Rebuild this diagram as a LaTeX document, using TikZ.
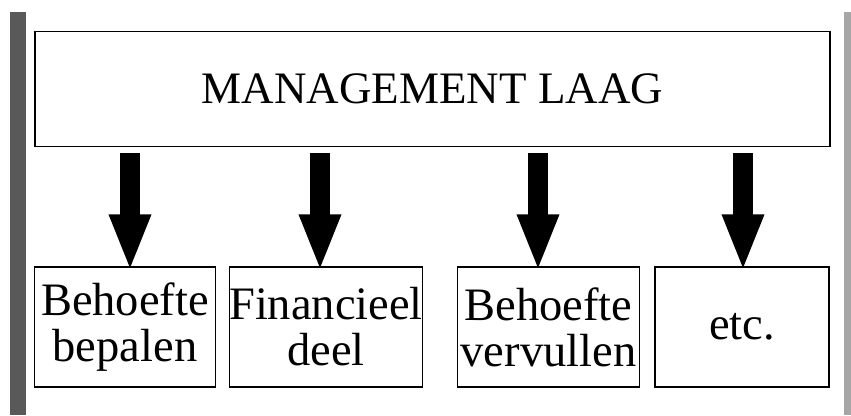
\documentclass[tikz,border=0pt]{standalone}
\usepackage{fontspec}
\setmainfont{Liberation Serif}
\usepackage{tikz}
\usetikzlibrary{arrows.meta}

\tikzset{
	laag/.style = {draw, line width=1.3pt, minimum width=795pt, minimum height=115pt, inner sep=0pt, font=\fontsize{45}{42}\selectfont},
	taak/.style = {draw, line width=1.3pt, minimum height=120pt, inner sep=0pt, align=center, font=\fontsize{46.5}{46}\selectfont},
	pijl/.style = {line width=20pt, shorten >=-5pt, -{Triangle[width=38pt,length=57pt]}}
}

\begin{document}
\begin{tikzpicture}[x=1pt,y=-1pt]
	\fill[white] (0,0) rectangle (851,415);
	% grijze randen
	\fill[black!65] (10,12) rectangle (26,415);
	\fill[black!35] (844,12) rectangle (851,415);
	% bovenste laag
	\node[laag] (mgmt) at (432.5,89) {MANAGEMENT LAAG};
	% onderste taken
	\node[taak, minimum width=181pt] (b1) at (125,327) {Behoefte\\bepalen};
	\node[taak, minimum width=189pt] (b2) at (326,327) {Financieel\\deel};
	\node[taak, minimum width=182pt] (b3) at (548.5,327) {Behoefte\\vervullen};
	\node[taak, minimum width=174pt] (b4) at (742,327) {etc.};
	% pijlen
	\draw[pijl] ([yshift=-6pt]mgmt.south -| 130,0) -- (b1.north -| 130,0);
	\draw[pijl] ([yshift=-6pt]mgmt.south -| 320,0) -- (b2.north -| 320,0);
	\draw[pijl] ([yshift=-6pt]mgmt.south -| 538,0) -- (b3.north -| 538,0);
	\draw[pijl] ([yshift=-6pt]mgmt.south -| 743,0) -- (b4.north -| 743,0);
\end{tikzpicture}
\end{document}
